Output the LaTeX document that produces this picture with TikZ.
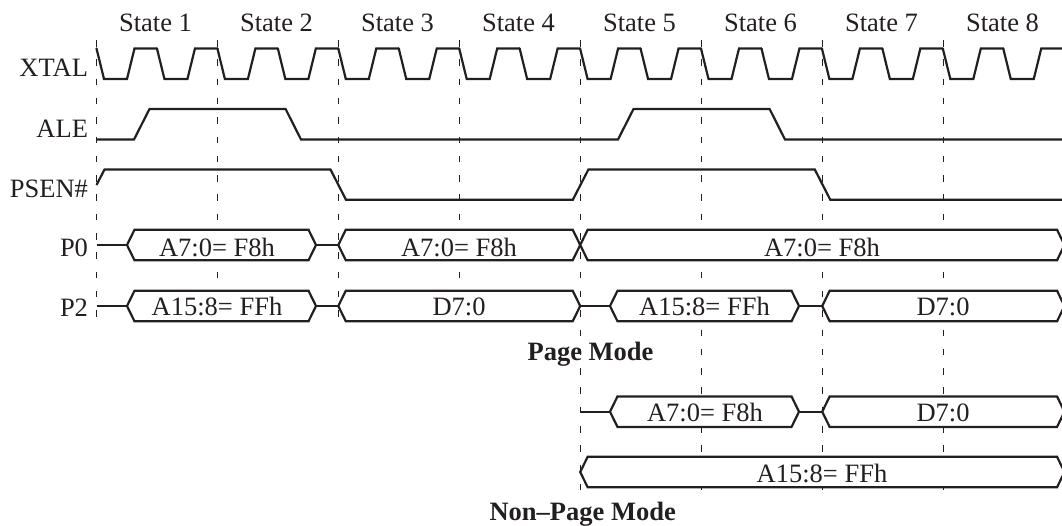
\documentclass[tikz,border=0pt]{standalone}
\usepackage{fontspec}
\setmainfont{Liberation Serif}
\definecolor{ink}{HTML}{231F20}
\tikzset{
  wave/.style={draw=ink,line width=2.2pt,line join=miter,line cap=butt},
  bus/.style={draw=ink,fill=white,line width=2.2pt,line join=miter},
  grid line/.style={draw=ink,line width=1.2pt,dash pattern=on 6.5pt off 12.8pt},
  txt/.style={text=ink,font=\fontsize{26.5pt}{29pt}\selectfont,anchor=base,inner sep=0pt,outer sep=0pt},
  sig/.style={txt,anchor=base east},
  mode/.style={txt,font=\fontsize{26.5pt}{29pt}\selectfont\bfseries},
}
% bus segment between two tips, around a mid line
\newcommand{\hexbus}[3]{\draw[bus] (#1,#3) -- (#1+7.5,#3-15.3) -- (#2-7.5,#3-15.3) -- (#2,#3) -- (#2-7.5,#3+15.3) -- (#1+7.5,#3+15.3) -- cycle;}
\begin{document}
\begin{tikzpicture}[x=1pt,y=-1pt]
\useasboundingbox (0,0) rectangle (1062,525);
\clip (0,0) rectangle (1062,525);
% grid lines
\foreach \gx/\gend in {96.5/327,217.4/327,338.3/327,459.2/327,580.2/491,701.2/491,822.2/491,943.2/501}
  \draw[grid line] (\gx,40) -- (\gx,\gend);
% state titles
\foreach \n [evaluate=\n as \cx using {155.5+121*(\n-1)}] in {1,...,8}
  \node[txt] (state\n) at (\cx,31.7) {State \n};
% signal names
\node[sig] (xtal) at (88,76.5) {XTAL};
\node[sig] (ale) at (88,137.5) {ALE};
\node[sig] (psen) at (88,197.5) {PSEN\#};
\node[sig] (pzero) at (88,256.5) {P0};
\node[sig] (ptwo) at (88,316) {P2};
% XTAL
\foreach \k [evaluate=\k as \px using {96.5+60.45*\k}] in {0,...,16}
  \draw[wave,line cap=round] (\px,48.5) -- (\px+7.5,79) -- (\px+30.5,79) -- (\px+38,48.5) -- (\px+60.45,48.5);
% ALE
\draw[wave] (96.5,139.5) -- (134,139.5) -- (149.5,109) -- (285.6,109) -- (301,139.5) -- (618,139.5) -- (633.5,109) -- (769.6,109) -- (785,139.5) -- (1062,139.5);
% PSEN#
\draw[wave] (96.5,185) -- (104.5,169.5) -- (330.5,169.5) -- (346,199.8) -- (572.8,199.8) -- (588.4,169.5) -- (814.8,169.5) -- (830.3,199.8) -- (1062,199.8);
% P0
\draw[wave] (96.5,245) -- (127,245);
\hexbus{127}{316}{245}
\draw[wave] (316,245) -- (338.3,245);
\hexbus{338.3}{580.2}{245}
\hexbus{580.2}{1064.5}{245}
% P2
\draw[wave] (96.5,306) -- (127,306);
\hexbus{127}{316}{306}
\draw[wave] (316,306) -- (338.3,306);
\hexbus{338.3}{580.2}{306}
\draw[wave] (580.2,306) -- (610,306);
\hexbus{610}{799}{306}
\draw[wave] (799,306) -- (822.2,306);
\hexbus{822.2}{1064.5}{306}
% Non-page P0
\draw[wave] (580.2,411.7) -- (610,411.7);
\hexbus{610}{799}{411.7}
\draw[wave] (799,411.7) -- (822.2,411.7);
\hexbus{822.2}{1064.5}{411.7}
% Non-page P2
\hexbus{580.2}{1064.5}{472}
% bus labels
\node[txt] (a) at (217,256) {A7:0= F8h};
\node[txt] (b) at (459,256) {A7:0= F8h};
\node[txt] (c) at (822,256) {A7:0= F8h};
\node[txt] (d) at (217,315.5) {A15:8= FFh};
\node[txt] (e) at (459,315.5) {D7:0};
\node[txt] (f) at (704.5,315.5) {A15:8= FFh};
\node[txt] (g) at (943,315.5) {D7:0};
\node[txt] (h) at (705,421.5) {A7:0= F8h};
\node[txt] (i) at (943,421.5) {D7:0};
\node[txt] (j) at (822,482) {A15:8= FFh};
\node[mode] (pm) at (590.5,360) {Page Mode};
\node[mode] (npm) at (582.7,520) {Non–Page Mode};
\end{tikzpicture}
\end{document}
